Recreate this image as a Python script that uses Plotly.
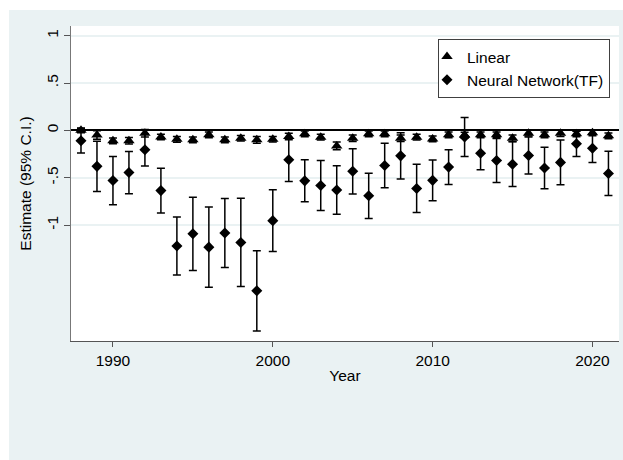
import plotly.graph_objects as go

# ---------------- data ----------------
years = [1988, 1989, 1990, 1991, 1992, 1993, 1994, 1995, 1996, 1997, 1998, 1999,
         2000, 2001, 2002, 2003, 2004, 2005, 2006, 2007, 2008, 2009, 2010, 2011,
         2012, 2013, 2014, 2015, 2016, 2017, 2018, 2019, 2020, 2021]

linear_est = [0.00, -0.05, -0.11, -0.11, -0.03, -0.07, -0.095, -0.10, -0.047, -0.10,
              -0.083, -0.10, -0.094, -0.065, -0.037, -0.072, -0.164, -0.083, -0.037,
              -0.037, -0.083, -0.072, -0.09, -0.047, -0.05, -0.047, -0.047, -0.083,
              -0.03, -0.047, -0.03, -0.037, -0.026, -0.058]
linear_ci_half = [0.025, 0.045, 0.03, 0.035, 0.04, 0.03, 0.03, 0.03, 0.03, 0.03,
                  0.03, 0.035, 0.03, 0.035, 0.03, 0.03, 0.04, 0.035, 0.03,
                  0.03, 0.035, 0.03, 0.03, 0.03, 0.03, 0.03, 0.03, 0.035,
                  0.03, 0.03, 0.035, 0.03, 0.03, 0.03]

nn_est = [-0.11, -0.38, -0.53, -0.445, -0.205, -0.636, -1.22, -1.092, -1.233, -1.084,
          -1.183, -1.694, -0.953, -0.31, -0.533, -0.583, -0.63, -0.432, -0.691, -0.371,
          -0.269, -0.613, -0.528, -0.388, -0.07, -0.241, -0.318, -0.357, -0.266, -0.397,
          -0.338, -0.142, -0.188, -0.455]
nn_ci_half = [0.13, 0.265, 0.255, 0.223, 0.17, 0.237, 0.306, 0.387, 0.424, 0.364,
              0.465, 0.424, 0.327, 0.23, 0.222, 0.264, 0.257, 0.239, 0.239, 0.236,
              0.245, 0.255, 0.216, 0.183, 0.205, 0.175, 0.233, 0.236, 0.196, 0.22,
              0.236, 0.134, 0.152, 0.234]

x_ticks = [1990, 2000, 2010, 2020]
y_ticks = [-1, -0.5, 0, 0.5, 1]
y_tick_labels = ["-1", "-.5", "0", ".5", "1"]

# ---------------- layout geometry ----------------
W, H = 623, 460
L, R, T, B = 71, 4, 26, 119
pw, ph = W - L - R, H - T - B


def px_x(p):
    return (p - L) / pw


def px_y(p):
    return (H - B - p) / ph


BG = "#eaf2f3"
FONT = "Liberation Sans, Arial, Helvetica, sans-serif"
FS = 15.5

fig = go.Figure()
fig.add_trace(go.Scatter(
    x=years, y=linear_est, mode="markers", name="Linear",
    marker=dict(symbol="triangle-up", size=10, color="black"),
    error_y=dict(type="data", array=linear_ci_half, color="black",
                 thickness=1.5, width=4),
))
fig.add_trace(go.Scatter(
    x=years, y=nn_est, mode="markers", name="Neural Network(TF)",
    marker=dict(symbol="diamond", size=8.5, color="black"),
    error_y=dict(type="data", array=nn_ci_half, color="black",
                 thickness=1.5, width=4),
))

shapes = [
    dict(type="rect", xref="paper", yref="paper",
         x0=px_x(9), x1=px_x(640), y0=px_y(10), y1=px_y(480),
         fillcolor=BG, line=dict(width=0), layer="below"),
    dict(type="rect", xref="paper", yref="paper",
         x0=0, x1=1, y0=0, y1=1,
         fillcolor="white", line=dict(width=0), layer="below"),
]

fig.update_layout(
    width=W, height=H,
    margin=dict(l=L, r=R, t=T, b=B, pad=0),
    paper_bgcolor="white", plot_bgcolor="white",
    font=dict(family=FONT, size=FS, color="black"),
    shapes=shapes,
    showlegend=True,
    legend=dict(
        x=px_x(610), xanchor="right", y=px_y(39), yanchor="top",
        bgcolor="white", bordercolor="#404040", borderwidth=1,
        font=dict(family=FONT, size=FS, color="black"),
        itemwidth=30, tracegroupgap=0, indentation=-12,
    ),
    xaxis=dict(
        range=[1987.375, 2021.66], tickvals=x_ticks,
        ticks="outside", ticklen=5, tickcolor="#555555", tickwidth=1,
        showline=True, linecolor="#555555", linewidth=1.2,
        showgrid=False, zeroline=False,
        tickfont=dict(size=FS),
        title=dict(text="Year", standoff=2, font=dict(size=FS)),
    ),
    yaxis=dict(
        range=[-2.224, 1.102], tickvals=y_ticks, ticktext=y_tick_labels,
        tickangle=-90,
        ticks="outside", ticklen=6, tickcolor="#555555", tickwidth=1,
        showline=True, linecolor="#777777", linewidth=1.2,
        showgrid=True, gridcolor=BG, gridwidth=1.5,
        zeroline=True, zerolinecolor="black", zerolinewidth=1.5,
        tickfont=dict(size=FS),
        title=dict(text="Estimate (95% C.I.)", standoff=8, font=dict(size=FS)),
    ),
)

fig.write_html("out.html", config={"displayModeBar": False})
